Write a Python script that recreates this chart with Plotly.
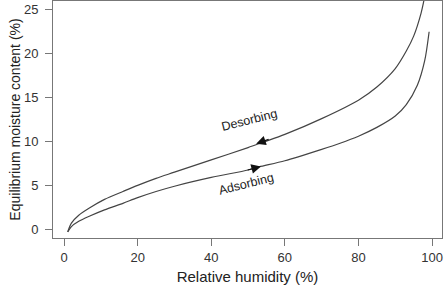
import plotly.graph_objects as go

# Desorbing (upper) curve
des_x = [1, 2, 4, 7, 11, 16, 20, 25, 30, 40, 50, 54, 60, 70, 80, 85, 90, 93, 95, 97, 98]
des_y = [-0.3, 0.7, 1.6, 2.45, 3.4, 4.3, 5.0, 5.8, 6.5, 7.9, 9.3, 9.9, 10.8, 12.6, 14.7, 16.2, 18.3, 20.3, 22.0, 24.6, 26.5]

# Adsorbing (lower) curve
ads_x = [1, 2, 4, 7, 11, 16, 20, 25, 30, 40, 50, 53, 60, 70, 75, 80, 85, 90, 93, 96, 98, 99.2]
ads_y = [-0.3, 0.3, 0.9, 1.5, 2.2, 2.95, 3.6, 4.3, 4.9, 5.9, 6.75, 7.1, 7.8, 9.1, 9.8, 10.6, 11.6, 12.9, 14.2, 16.4, 19.2, 22.5]

x_ticks = [0, 20, 40, 60, 80, 100]
y_ticks = [0, 5, 10, 15, 20, 25]

font = "Liberation Sans, Arial, sans-serif"
line_col = "#444444"

fig = go.Figure()
fig.add_trace(go.Scatter(x=des_x, y=des_y, mode="lines", line=dict(color=line_col, width=1.2, shape="spline", smoothing=0.8), showlegend=False))
fig.add_trace(go.Scatter(x=ads_x, y=ads_y, mode="lines", line=dict(color=line_col, width=1.2, shape="spline", smoothing=0.8), showlegend=False))

# arrows
fig.add_annotation(x=52.2, y=9.75, ax=56, ay=10.3, xref="x", yref="y", axref="x", ayref="y",
                   text="", showarrow=True, arrowhead=2, arrowsize=1.6, arrowwidth=1.2, arrowcolor="#111111")
fig.add_annotation(x=53.5, y=7.15, ax=49.5, ay=6.7, xref="x", yref="y", axref="x", ayref="y",
                   text="", showarrow=True, arrowhead=2, arrowsize=1.6, arrowwidth=1.2, arrowcolor="#111111")

fig.add_annotation(x=50.5, y=12.4, text="Desorbing", showarrow=False, textangle=-14,
                   font=dict(family=font, size=12.5, color="#222222"))
fig.add_annotation(x=49.5, y=5.2, text="Adsorbing", showarrow=False, textangle=-14,
                   font=dict(family=font, size=12.5, color="#222222"))

axis_common = dict(showline=True, linecolor="#777777", linewidth=1, mirror=True,
                   ticks="outside", ticklen=7, tickcolor="#777777", tickwidth=1,
                   showgrid=False, zeroline=False, automargin=False,
                   tickfont=dict(family=font, size=13, color="#333333"))

fig.update_xaxes(range=[-3, 102.7], tickvals=x_ticks,
                 title=dict(text="Relative humidity (%)", font=dict(family=font, size=15, color="#222222"), standoff=7),
                 **axis_common)
fig.update_yaxes(range=[-1, 26], tickvals=y_ticks, ticklabelstandoff=4,
                 title=dict(text="Equilibrium moisture content (%)", font=dict(family=font, size=14, color="#222222"), standoff=0),
                 **axis_common)

fig.update_layout(width=444, height=287, margin=dict(l=53, r=2, t=1, b=49),
                  plot_bgcolor="white", paper_bgcolor="white", font=dict(family=font))
fig.write_html("out.html", config={"displayModeBar": False},
               post_script="document.body.style.margin='0';")
